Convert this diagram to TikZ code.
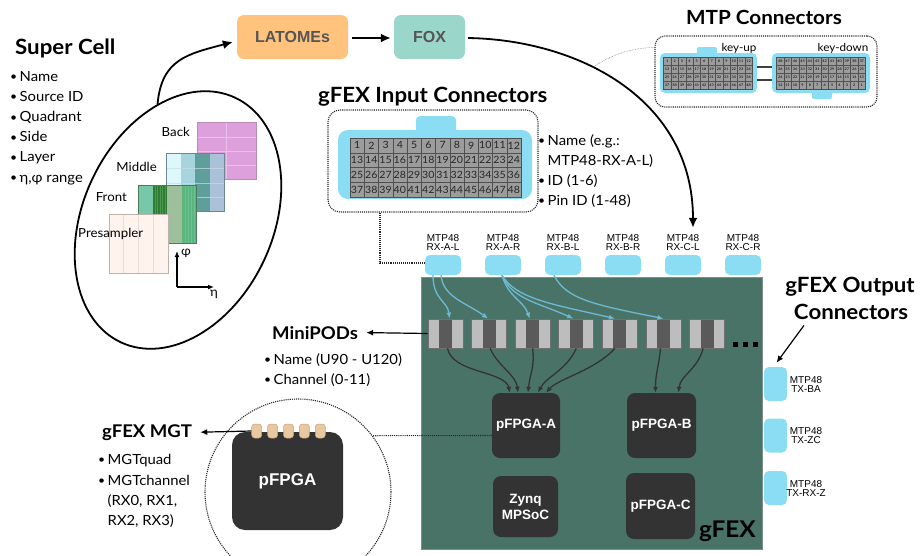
\documentclass[tikz,border=0pt]{standalone}
\usepackage{fontspec}
\setmainfont[FakeStretch=1.06]{Lato}
\newfontfamily\helv{Liberation Sans}
\usetikzlibrary{arrows.meta,shapes.geometric,calc}

% palette
\definecolor{connblue}{HTML}{8ADDF2}
\definecolor{boardgreen}{HTML}{4A7367}
\definecolor{boardedge}{HTML}{7D8F8A}
\definecolor{chipgray}{HTML}{333333}
\definecolor{latomeorange}{HTML}{FFC37D}
\definecolor{foxteal}{HTML}{9AD7CA}
\definecolor{boxtext}{HTML}{555555}
\definecolor{fibreblue}{HTML}{6DB9D3}
\definecolor{feedgray}{HTML}{333333}
\definecolor{podlight}{HTML}{BDBDBD}
\definecolor{poddark}{HTML}{5A5A5A}
\definecolor{podedge}{HTML}{707070}
\definecolor{padtan}{HTML}{E8C8A0}
\definecolor{padedge}{HTML}{C8A27C}
\definecolor{pincell}{HTML}{9C9C9C}
\definecolor{pinedge}{HTML}{505050}
% calorimeter layers
\definecolor{backpink}{HTML}{DDA0DC}
\definecolor{backgrid}{HTML}{E9C0E8}
\definecolor{backedge}{HTML}{B98DB8}
\definecolor{midA}{HTML}{DDF8FA}
\definecolor{midB}{HTML}{A8D4E0}
\definecolor{midC}{HTML}{5E9E9B}
\definecolor{midD}{HTML}{A9C2DA}
\definecolor{midgrid}{HTML}{C9DDE3}
\definecolor{midedge}{HTML}{6E8796}
\definecolor{frontA}{HTML}{76C8A9}
\definecolor{frontB}{HTML}{2F7D35}
\definecolor{frontBstripe}{HTML}{4A9A4E}
\definecolor{frontC}{HTML}{9DBF9B}
\definecolor{frontD}{HTML}{5BB67E}
\definecolor{frontedge}{HTML}{4E7A5C}
\definecolor{preA}{HTML}{FFF3EE}
\definecolor{pregrid}{HTML}{E9DDD7}
\definecolor{preedge}{HTML}{BCB3AE}

\newcommand\bul{\makebox[9.5pt][l]{\raisebox{0.4pt}{\fontsize{11.5}{11.5}\selectfont\textbullet}}}

\tikzset{
  heading/.style={font=\fontsize{21}{21}\selectfont\bfseries, inner sep=0pt},
  subheading/.style={font=\fontsize{17.5}{18}\selectfont\bfseries, inner sep=0pt},
  btext/.style={font=\fontsize{14}{14}\selectfont, inner sep=0pt, anchor=base west},
  layerlabel/.style={font=\fontsize{12.5}{13}\selectfont, inner sep=0pt},
  flowbox/.style={rounded corners=7pt, minimum height=44pt, inner sep=0pt, text=boxtext,
    font=\helv\bfseries\fontsize{16}{16}\selectfont},
  conn/.style={fill=connblue, rounded corners=5pt, inner sep=0pt, minimum width=36pt, minimum height=20pt},
  outconn/.style={fill=connblue, rounded corners=5pt, inner sep=0pt, minimum width=23pt, minimum height=34pt},
  mtplabel/.style={font=\helv\fontsize{10}{9}\selectfont, align=center, inner sep=0pt},
  minipod/.style={draw=podedge, line width=0.8pt, fill=podlight, minimum width=35pt, minimum height=29pt,
    inner sep=0pt, path picture={\fill[poddark] ([xshift=-6.5pt]path picture bounding box.south)
      rectangle ([xshift=6.5pt]path picture bounding box.north);}},
  chip/.style={fill=chipgray, rounded corners=8pt, inner sep=0pt, text=white, align=center,
    font=\helv\bfseries\fontsize{13.5}{16}\selectfont},
  fibre/.style={draw=fibreblue, line width=1.3pt, -{Latex[length=6pt,width=5pt]}},
  feed/.style={draw=feedgray, line width=1.3pt, -{Latex[length=6pt,width=5pt]}},
  bigarrow/.style={draw=black, line width=1.8pt, -{Latex[length=10pt,width=9pt]}},
  callout/.style={draw=black, line width=1.2pt, -{Latex[length=7pt,width=6pt]}},
  dotbox/.style={draw=black!85, line width=1.1pt, densely dotted, rounded corners=10pt, inner sep=0pt},
  dotline/.style={draw=black!85, line width=1.1pt, densely dotted},
  pin/.style={draw=pinedge, line width=0.5pt, fill=pincell, minimum width=14.25pt, minimum height=14.75pt,
    inner sep=0pt, font=\fontsize{10}{10}\selectfont, text=black!85},
  tinypin/.style={draw=pinedge, line width=0.3pt, fill=pincell, minimum width=7.4pt, minimum height=8pt,
    inner sep=0pt, font=\fontsize{3.6}{4}\selectfont},
  mgtpad/.style={fill=padtan, draw=padedge, line width=0.5pt, rounded corners=3pt, minimum width=10pt,
    minimum height=14pt, inner sep=0pt},
  axisarrow/.style={draw=black, line width=1.3pt, -{Latex[length=6pt,width=5pt]}},
}

\begin{document}
\begin{tikzpicture}[x=1pt,y=-1pt]
\useasboundingbox (0,0) rectangle (920,555);

% ---------------- Super Cell description
\node[heading, anchor=base west] (sctitle) at (15,54.5) {Super Cell};
\foreach \itm [count=\i] in {Name,Source ID,Quadrant,Side,Layer,{η,φ range}}
  \node[btext] (scitem\i) at (10,{81+20.2*(\i-1)}) {\bul\itm};

% ---------------- calorimeter layers
% back
\fill[backpink] (197,122) rectangle (256,179);
\draw[backgrid, line width=0.6pt] (226.5,122) -- (226.5,179)
  (197,137) -- (256,137) (197,151) -- (256,151) (197,165) -- (256,165);
\draw[backedge, line width=0.7pt] (197,122) rectangle (256,179);
% middle
\foreach \c [count=\i from 0] in {midA,midB,midC,midD}
  \fill[\c] ({166+14.5*\i},153) rectangle ({180.5+14.5*\i},211);
\draw[midgrid, line width=0.5pt, opacity=0.7] (166,168) -- (224,168) (166,183) -- (224,183) (166,197) -- (224,197);
\draw[midedge, line width=0.7pt] (166,153) rectangle (224,211);
% front
\foreach \c [count=\i from 0] in {frontA,frontB,frontC,frontD}
  \fill[\c] ({138+14.7*\i},185) rectangle ({152.7+14.7*\i},243);
\foreach \xx in {155,157.5,160,162.5,165}
  \draw[frontBstripe, line width=0.5pt] (\xx,185) -- (\xx,243);
\foreach \xx in {185,188,191,194}
  \draw[frontA, line width=0.4pt, opacity=0.6] (\xx,185) -- (\xx,243);
\draw[frontedge, line width=0.7pt] (138,185) rectangle (196.8,243);
% presampler
\fill[preA] (109,214) rectangle (168,273);
\draw[pregrid, line width=0.6pt] (123.5,214) -- (123.5,273) (138.5,214) -- (138.5,273) (153,214) -- (153,273);
\draw[preedge, line width=0.7pt] (109,214) rectangle (168,273);
% layer names
\node[layerlabel, anchor=east] (backlbl) at (190,132) {Back};
\node[layerlabel, anchor=east] (midlbl) at (157,167) {Middle};
\node[layerlabel, anchor=east] (frontlbl) at (127,197) {Front};
\node[layerlabel, anchor=west] (prelbl) at (78,234) {Presampler};
% eta-phi axes
\coordinate (axo) at (177,287);
\draw[axisarrow] (axo) -- ++(0,-36);
\draw[axisarrow] (axo) -- ++(37,0);
\node[layerlabel] (philbl) at (186,253) {φ};
\node[layerlabel] (etalbl) at (214,294) {η};

% ring around the super cell
\node[draw, line width=1.8pt, ellipse, minimum width=190pt, minimum height=270pt, inner sep=0pt,
  rotate=-25] (cellring) at (178,220) {};

% ---------------- readout chain
\node[flowbox, fill=latomeorange, minimum width=111pt] (latome) at (292.5,37) {LATOMEs};
\node[flowbox, fill=foxteal, minimum width=71pt] (fox) at (429.5,37) {FOX};
\draw[bigarrow] (cellring.125) .. controls +(4,-45) and +(-45,12) .. ([shift={(-4,5)}]latome.west);
\draw[bigarrow] ([shift={(4,1)}]latome.east) -- ([shift={(-3,1)}]fox.west);

% ---------------- board input connectors
\foreach \nm/\tx [count=\i from 0] in {rxAL/RX-A-L,rxAR/RX-A-R,rxBL/RX-B-L,rxBR/RX-B-R,rxCL/RX-C-L,rxCR/RX-C-R}{
  \node[conn] (\nm) at ({443+60*\i},265) {};
  \node[mtplabel] (lbl\nm) at ({443+60*\i},243) {MTP48\\\tx};
}

\draw[bigarrow] ([shift={(3,1)}]fox.east) .. controls (580,40) and (693,100) ..
  ([shift={(10,-7)}]lblrxCL.north) coordinate[pos=0.39] (foxbend);

% ---------------- MTP connectors
\node[dotbox, minimum width=222pt, minimum height=71pt] (mtpbox) at (766,71.5) {};
\node[heading, font=\fontsize{19.5}{20}\selectfont\bfseries, anchor=base] (mtptitle) at (764,24) {MTP Connectors};
\draw[gray, line width=0.6pt, densely dotted] (foxbend) .. controls (615,52) and (635,48) .. ([yshift=-12pt]mtpbox.north west);
% key-up
\fill[connblue, rounded corners=2pt] (697,47) rectangle (717,56);
\node[fill=connblue, rounded corners=5pt, minimum width=97pt, minimum height=40pt, inner sep=0pt] (keyup) at (708.5,73) {};
\foreach \r in {0,...,3}
  \foreach \c in {0,...,11}{
    \pgfmathtruncatemacro\n{12*\r+\c+1}
    \node[tinypin] (kup\n) at ({663.5+7.4*(\c+0.5)},{57+8*(\r+0.5)}) {\n};
  }
% key-down
\fill[connblue, rounded corners=2pt] (812,88) rectangle (832,99);
\node[fill=connblue, rounded corners=5pt, minimum width=98pt, minimum height=40pt, inner sep=0pt] (keydown) at (821,73) {};
\foreach \r in {0,...,3}
  \foreach \c in {0,...,11}{
    \pgfmathtruncatemacro\n{48-12*\r-\c}
    \node[tinypin] (kdn\n) at ({776.6+7.4*(\c+0.5)},{57+8*(\r+0.5)}) {\n};
  }
\node[font=\fontsize{11}{11}\selectfont, inner sep=0pt, anchor=base] (keyuplbl) at (739,51) {key-up};
\node[font=\fontsize{11}{11}\selectfont, inner sep=0pt, anchor=base] (keydownlbl) at (843,51) {key-down};
\draw[line width=1.2pt, black!75] ([yshift=6pt]keyup.east) -- ([yshift=6pt]keydown.west);
\draw[line width=1.2pt, black!75] ([yshift=-7pt]keyup.east) -- ([yshift=-7pt]keydown.west);

% ---------------- gFEX input connector detail
\node[heading, anchor=base west] (intitle) at (318,102) {gFEX Input Connectors};
\node[dotbox, rounded corners=12pt, minimum width=210pt, minimum height=102pt] (inbox) at (433,161) {};
\fill[connblue, rounded corners=4pt] (416,116) rectangle (456,135);
\node[fill=connblue, rounded corners=10pt, minimum width=194pt, minimum height=69pt, inner sep=0pt] (inconn) at (435,164.5) {};
\foreach \r in {0,...,3}
  \foreach \c in {0,...,11}{
    \pgfmathtruncatemacro\n{12*\r+\c+1}
    \node[pin] (inpin\n) at ({350+14.25*(\c+0.5)},{138+14.75*(\r+0.5)}) {\n};
  }
\node[btext] (initem1) at (538,145) {\bul Name (e.g.:};
\node[btext] (initem2) at (538,165) {\hspace*{9.5pt}MTP48-RX-A-L)};
\node[btext] (initem3) at (538,185) {\bul ID (1-6)};
\node[btext] (initem4) at (538,205) {\bul Pin ID (1-48)};
\draw[dotline] ([xshift=-53pt]inbox.south) |- ([yshift=2pt]rxAL.west);

% ---------------- gFEX board
\node[draw=boardedge, line width=1pt, fill=boardgreen, minimum width=341pt, minimum height=272pt, inner sep=0pt] (board) at (591.5,413) {};
\foreach \i in {1,...,7}
  \node[minipod] (pod\i) at ({445.5+43.6*(\i-1)},333.5) {};
\foreach \k in {0,1,2}
  \fill[black] ({733+10*\k},342) rectangle ({738+10*\k},347);

\node[chip, minimum width=68pt, minimum height=65pt] (fpgaA) at (526,425.5) {pFPGA-A};
\node[chip, minimum width=69pt, minimum height=65pt] (fpgaB) at (661.5,425.5) {pFPGA-B};
\node[chip, minimum width=65pt, minimum height=61pt] (zynq) at (525.5,506.5) {Zynq\\MPSoC};
\node[chip, minimum width=69pt, minimum height=66pt] (fpgaC) at (660.5,506) {pFPGA-C};
\node[font=\fontsize{23}{23}\selectfont\bfseries, inner sep=0pt, anchor=base east] (gfexlbl) at (756,537) {gFEX};

% fibres from the input connectors to the MiniPODs
\draw[fibre] ([xshift=-10pt]rxAL.south) .. controls +(0,25) and +(-2,-18) .. ([xshift=4pt]pod1.north);
\draw[fibre] ([xshift=-2pt]rxAL.south) .. controls +(2,22) and +(-22,-16) .. ([xshift=-1pt]pod2.north);
\draw[fibre] ([xshift=-1pt]rxAR.south) .. controls +(6,22) and +(-6,-18) .. ([xshift=-3pt]pod3.north);
\draw[fibre] ([xshift=-1pt]rxAR.south) .. controls +(10,24) and +(-35,-16) .. ([xshift=-3pt]pod4.north);
\draw[fibre] ([xshift=-1pt]rxAR.south) .. controls +(14,24) and +(-60,-14) .. ([xshift=-5pt]pod5.north);
\draw[fibre] ([xshift=-9pt]rxBL.south) .. controls +(12,24) and +(-70,-14) .. (pod6.north);

% MiniPOD outputs into the processor FPGAs
\draw[feed] ([xshift=2pt]pod1.south) .. controls +(5,25) and +(-5,-22) .. ([xshift=-16pt]fpgaA.north);
\draw[feed] ([xshift=1pt]pod2.south) .. controls +(8,18) and +(-2,-18) .. ([xshift=-8pt]fpgaA.north);
\draw[feed] (pod3.south) .. controls +(2,20) and +(2,-20) .. ([xshift=2pt]fpgaA.north);
\draw[feed] (pod4.south) .. controls +(-10,22) and +(8,-16) .. ([xshift=12pt]fpgaA.north);
\draw[feed] ([xshift=-5pt]pod5.south) .. controls +(-20,22) and +(12,-14) .. ([xshift=20pt]fpgaA.north);
\draw[feed] ([xshift=-3pt]pod6.south) .. controls +(-2,20) and +(0,-20) .. ([xshift=-6pt]fpgaB.north);
\draw[feed] ([xshift=-4pt]pod7.south) .. controls +(-6,22) and +(2,-18) .. ([xshift=17pt]fpgaB.north);

% ---------------- MiniPODs callout
\node[subheading, anchor=base west] (podtitle) at (272,339) {MiniPODs};
\draw[callout] (pod1.west) -- ([xshift=8pt]podtitle.east);
\node[btext] (poditem1) at (264,364) {\bul Name (U90 - U120)};
\node[btext] (poditem2) at (264,384) {\bul Channel (0-11)};

% ---------------- output connectors
\foreach \nm/\tx/\yy in {txBA/TX-BA/384,txZC/TX-ZC/435.5,txRXZ/TX-RX-Z/488}{
  \node[outconn] (\nm) at (775.5,\yy) {};
  \node[mtplabel] (lbl\nm) at (806,\yy) {MTP48\\\tx};
}
\node[heading, anchor=base] (outtitleA) at (850,292) {gFEX Output};
\node[heading, anchor=base] (outtitleB) at (851,319) {Connectors};
\draw[callout] ([shift={(-47,6)}]outtitleB.south) -- ([shift={(1,-4)}]txBA.north);

% ---------------- MGT detail
\node[draw=black!85, line width=1.1pt, densely dotted, circle, minimum size=186pt, inner sep=0pt] (zoomring) at (298,492) {};
\node[chip, font=\helv\bfseries\fontsize{17}{17}\selectfont, rounded corners=13pt, minimum width=111pt, minimum height=98pt] (bigfpga) at (287.5,481) {pFPGA};
\foreach \i in {1,...,5}
  \node[mgtpad] (pad\i) at ({256.7+15.9*(\i-1)},431) {};
\draw[dotline] ([yshift=-10pt]fpgaA.west) -- (zoomring.37);
\node[subheading, anchor=base west] (mgttitle) at (102,437) {gFEX MGT};
\draw[callout] (pad1.west) -- ([xshift=8pt]mgttitle.east);
\node[btext] (mgtitem1) at (98,464) {\bul MGTquad};
\node[btext] (mgtitem2) at (98,485) {\bul MGTchannel};
\node[btext] (mgtitem3) at (98,505) {\hspace*{9.5pt}(RX0, RX1,};
\node[btext] (mgtitem4) at (98,525) {\hspace*{9.5pt}RX2, RX3)};

\end{tikzpicture}
\end{document}
